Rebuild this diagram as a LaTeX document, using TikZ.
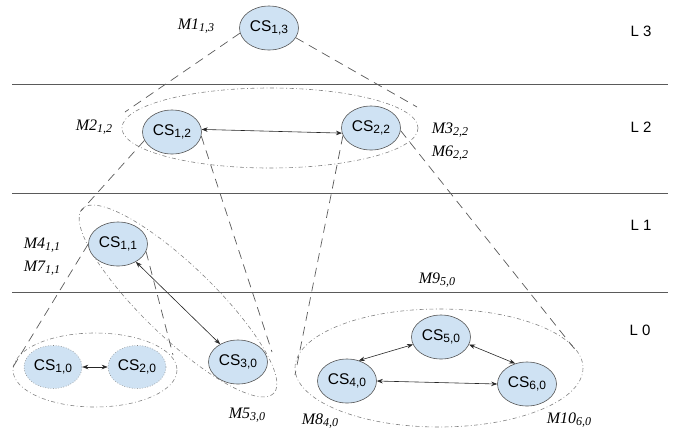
\documentclass[tikz,border=0pt]{standalone}
\usepackage{fontspec}
\newfontfamily\lsansfont{Liberation Sans}
\newfontfamily\lseriffont{Liberation Serif}
\usetikzlibrary{shapes.geometric,arrows.meta}
\definecolor{csfill}{RGB}{207,226,243}
\definecolor{csline}{RGB}{85,85,85}
\definecolor{rule}{RGB}{90,90,90}
\definecolor{cone}{RGB}{90,90,90}
\definecolor{grp}{RGB}{130,130,130}
\newcommand{\cslab}[1]{{\lsansfont\fontsize{15.5}{17}\selectfont CS\raisebox{-0.25ex}{\fontsize{12}{13}\selectfont #1}}}
\newcommand{\mlab}[2]{{\lseriffont\fontsize{16}{17}\selectfont\itshape #1\raisebox{-0.3ex}{\fontsize{12}{13}\selectfont\itshape #2}}}
\newcommand{\llab}[1]{{\lsansfont\fontsize{15}{16}\selectfont #1}}
\tikzset{
  csnode/.style={ellipse, draw=csline, fill=csfill, line width=0.6pt, minimum width=59pt, minimum height=44pt, inner sep=0pt},
  csdot/.style={ellipse, draw=grp, dotted, fill=csfill, line width=0.6pt, minimum width=58pt, minimum height=43pt, inner sep=0pt},
  conel/.style={draw=cone, line width=0.7pt, dash pattern=on 9pt off 6pt},
  grpl/.style={draw=grp, line width=0.6pt, dash pattern=on 4pt off 2.5pt on 0.8pt off 2.5pt},
  rulel/.style={draw=rule, line width=0.9pt},
  biarrow/.style={draw=black!85, line width=0.6pt, {Stealth[length=6pt,width=4.5pt]}-{Stealth[length=6pt,width=4.5pt]}},
  lab/.style={inner sep=0pt, anchor=center}
}
\begin{document}
\begin{tikzpicture}[x=1pt,y=-1pt]
\useasboundingbox (0,0) rectangle (677,432);
% level rules
\draw[rulel] (12,84) -- (668,84);
\draw[rulel] (12,193) -- (668,193);
\draw[rulel] (12,292) -- (668,292);
% group ellipses
\draw[grpl] (270,128) ellipse [x radius=148, y radius=40];
\draw[grpl, rotate around={-44:(178,301)}] (178,301) ellipse [x radius=133, y radius=36];
\draw[grpl] (95,370) ellipse [x radius=82, y radius=37];
\draw[grpl] (439,368) ellipse [x radius=144, y radius=59];
% nodes
\node[csnode] (n13) at (269,28) {\cslab{1,3}};
\node[csnode] (n12) at (172,132) {\cslab{1,2}};
\node[csnode] (n22) at (371,128) {\cslab{2,2}};
\node[csnode] (n11) at (118,244) {\cslab{1,1}};
\node[csnode] (n30) at (238,362) {\cslab{3,0}};
\node[csdot] (n10) at (53,367) {\cslab{1,0}};
\node[csdot] (n20) at (137,367) {\cslab{2,0}};
\node[csnode] (n50) at (441,337) {\cslab{5,0}};
\node[csnode] (n40) at (347,381) {\cslab{4,0}};
\node[csnode] (n60) at (527,384) {\cslab{6,0}};
% cone end points
\coordinate (c1l) at (125,112);
\coordinate (c1r) at (417,107);
\coordinate (c2l) at (81,211);
\coordinate (c2r) at (272,352);
\coordinate (c3l) at (295,375);
\coordinate (c3r) at (577,352);
\coordinate (c4l) at (13,367);
\coordinate (c4r) at (173,355);
% cones
\draw[conel] (n13.190) -- (c1l);
\draw[conel] (n13.-20) -- (c1r);
\draw[conel] (n12.197) -- (c2l);
\draw[conel] (n12.-8) -- (c2r);
\draw[conel] (n22.195) -- (c3l);
\draw[conel] (n22.-5) -- (c3r);
\draw[conel] (n11.180) -- (c4l);
\draw[conel] (n11.-15) -- (c4r);
% arrows
\draw[biarrow] (n12.5) -- (n22.190);
\draw[biarrow] (n11.-45) -- (n30.135);
\draw[biarrow] (n10.east) -- (n20.west);
\draw[biarrow] (n50.195) -- (n40.60);
\draw[biarrow] (n50.-15) -- (n60.120);
\draw[biarrow] (n40.east) -- (n60.west);
% M labels
\node[lab] (m1) at (196,26) {\mlab{M1}{1,3}};
\node[lab] (m2) at (94,127) {\mlab{M2}{1,2}};
\node[lab] (m3) at (450,130) {\mlab{M3}{2,2}};
\node[lab] (m6) at (450,153) {\mlab{M6}{2,2}};
\node[lab] (m4) at (42,245) {\mlab{M4}{1,1}};
\node[lab] (m7) at (42,268) {\mlab{M7}{1,1}};
\node[lab] (m9) at (437,280) {\mlab{M9}{5,0}};
\node[lab] (m5) at (247,415) {\mlab{M5}{3,0}};
\node[lab] (m8) at (320,421) {\mlab{M8}{4,0}};
\node[lab] (m10) at (569,420) {\mlab{M10}{6,0}};
% level labels
\node[lab] (l3) at (641,31) {\llab{L 3}};
\node[lab] (l2) at (641,127) {\llab{L 2}};
\node[lab] (l1) at (641,225) {\llab{L 1}};
\node[lab] (l0) at (640,330) {\llab{L 0}};
\end{tikzpicture}
\end{document}
